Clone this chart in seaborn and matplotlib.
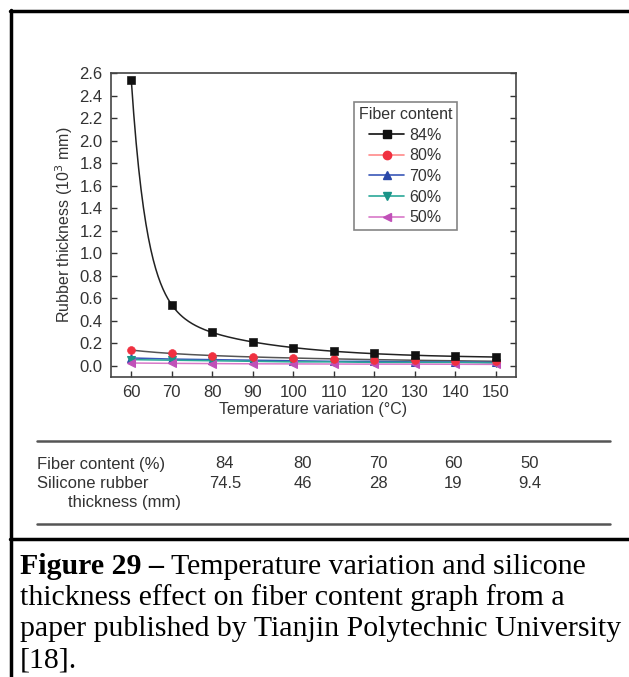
import numpy as np
import pandas as pd
import seaborn as sns
import matplotlib.pyplot as plt
from matplotlib.lines import Line2D

# data
temperature = [60, 70, 80, 90, 100, 110, 120, 130, 140, 150]
fiber_84 = [2.54, 0.54, 0.30, 0.21, 0.16, 0.13, 0.11, 0.095, 0.085, 0.075]
fiber_80 = [0.14, 0.11, 0.09, 0.08, 0.07, 0.06, 0.055, 0.05, 0.045, 0.04]
fiber_70 = [0.07, 0.06, 0.055, 0.05, 0.045, 0.04, 0.04, 0.035, 0.035, 0.03]
fiber_60 = [0.055, 0.05, 0.045, 0.04, 0.035, 0.035, 0.03, 0.03, 0.03, 0.025]
fiber_50 = [0.025, 0.022, 0.02, 0.018, 0.017, 0.016, 0.015, 0.015, 0.014, 0.013]

table_fiber = ['84', '80', '70', '60', '50']
table_thickness = ['74.5', '46', '28', '19', '9.4']

caption_bold = 'Figure 29 \u2013'
caption_rest = ' Temperature variation and silicone'
caption_lines = ['thickness effect on fiber content graph from a',
                 'paper published by Tianjin Polytechnic University',
                 '[18].']

series = {'84%': fiber_84, '80%': fiber_80, '70%': fiber_70,
          '60%': fiber_60, '50%': fiber_50}
colors = {'84%': '#111111', '80%': '#f03040', '70%': '#2a48a8',
          '60%': '#1b9488', '50%': '#c050b8'}
line_colors = {'84%': '#111111', '80%': '#ff8a8a', '70%': '#3a58b8',
               '60%': '#2aa898', '50%': '#d878c8'}
markers = {'84%': 's', '80%': 'o', '70%': '^', '60%': 'v', '50%': '<'}

df = pd.DataFrame([(k, t, v) for k, vals in series.items()
                   for t, v in zip(temperature, vals)],
                  columns=['fiber', 'temp', 'thick'])


def fit_expdec2(x, y):
    """Least squares fit of y = y0 + A1*exp(-dx/t1) + A2*exp(-dx/t2), grid over t1, t2."""
    x = np.asarray(x, float)
    y = np.asarray(y, float)
    dx = x - x[0]
    best = None
    for t1 in np.linspace(2, 20, 61):
        for t2 in np.linspace(10, 120, 56):
            if t2 <= t1:
                continue
            basis = np.column_stack([np.ones_like(x), np.exp(-dx / t1), np.exp(-dx / t2)])
            coef, *_ = np.linalg.lstsq(basis, y, rcond=None)
            err = np.sum((basis @ coef - y) ** 2)
            if best is None or err < best[0]:
                best = (err, t1, t2, coef)
    _, t1, t2, coef = best
    xs = np.linspace(x[0], x[-1], 300)
    d = xs - x[0]
    return xs, coef[0] + coef[1] * np.exp(-d / t1) + coef[2] * np.exp(-d / t2)


sns.set_theme(style='white')
plt.rcParams['font.family'] = ['Liberation Sans', 'DejaVu Sans']

fig = plt.figure(figsize=(6.29, 6.77), dpi=100)
ax = fig.add_axes([0.1765, 0.443, 0.644, 0.449])

# fitted curves for 84% and 80%
for key, col in [('84%', '#222222'), ('80%', '#555555')]:
    xs, ys = fit_expdec2(temperature, series[key])
    sns.lineplot(x=xs, y=ys, ax=ax, color=col, lw=1.1, zorder=2)

# connected series
for key in ['70%', '60%', '50%']:
    sub = df[df['fiber'] == key]
    sns.lineplot(data=sub, x='temp', y='thick', ax=ax, color=line_colors[key],
                 lw=1.1, marker=markers[key], markersize=5.5,
                 markerfacecolor=colors[key], markeredgecolor=colors[key], zorder=3)

for key in ['80%', '84%']:
    sub = df[df['fiber'] == key]
    sns.scatterplot(data=sub, x='temp', y='thick', ax=ax, color=colors[key],
                    marker=markers[key], s=32, edgecolor=colors[key], zorder=4)

ax.set_xlim(55, 155)
ax.set_ylim(-0.1, 2.6)
ax.set_xticks(temperature)
ax.set_yticks(np.arange(0, 2.61, 0.2))
ax.set_yticklabels([f'{v:.1f}' for v in np.arange(0, 2.61, 0.2)])
ax.tick_params(direction='in', length=4, width=1, colors='#333333',
               labelsize=12, labelcolor='#333333', top=False, right=True,
               left=True, bottom=True, pad=6)
for s in ax.spines.values():
    s.set_color('#444444')
    s.set_linewidth(1.2)
ax.set_xlabel('Temperature variation (\u00b0C)', fontsize=11.5, color='#333333', labelpad=1)
ax.set_ylabel('Rubber thickness (10$^3$ mm)', fontsize=11.5, color='#333333', labelpad=3)

handles = [Line2D([], [], color=line_colors[k], marker=markers[k], markersize=6,
                  markerfacecolor=colors[k], markeredgecolor=colors[k], lw=1.2)
           for k in series]
leg = ax.legend(handles, list(series), title='Fiber content', loc='upper left',
                bbox_to_anchor=(0.58, 0.93), fontsize=11.5, title_fontsize=11.5,
                frameon=True, fancybox=False, edgecolor='#666666',
                handlelength=2.2, handletextpad=0.3, labelspacing=0.35,
                borderpad=0.3)
leg.get_frame().set_linewidth(1.2)
for t in leg.get_texts():
    t.set_color('#333333')
leg.get_title().set_color('#333333')

# table under the chart
W, H = 629, 677


def fx(px):
    return px / W


def fy(py):
    return 1 - py / H


fig.add_artist(Line2D([fx(37), fx(610)], [fy(441), fy(441)], color='#555555', lw=1.8))
fig.add_artist(Line2D([fx(37), fx(610)], [fy(524), fy(524)], color='#555555', lw=1.8))
tkw = dict(fontsize=12, color='#333333', va='center')
fig.text(fx(37), fy(464), 'Fiber content (%)', **tkw)
fig.text(fx(37), fy(483), 'Silicone rubber', **tkw)
fig.text(fx(68), fy(503), 'thickness (mm)', **tkw)
col_x = [225, 303, 378, 453, 530]
for cx, f, t in zip(col_x, table_fiber, table_thickness):
    fig.text(fx(cx), fy(464), f, ha='center', **tkw)
    fig.text(fx(cx), fy(483), t, ha='center', **tkw)

# outer frame and caption separator
fig.add_artist(Line2D([fx(11), fx(11)], [fy(10), 0], color='black', lw=2.5))
fig.add_artist(Line2D([fx(10), 1], [fy(11), fy(11)], color='black', lw=2.5))
fig.add_artist(Line2D([fx(10), 1], [fy(539), fy(539)], color='black', lw=2.5))

# caption
ckw = dict(fontsize=21.5, color='black', family=['Liberation Serif', 'DejaVu Serif'],
           va='baseline')
b = fig.text(fx(20), fy(574), caption_bold, fontweight='bold', **ckw)
fig.canvas.draw()
bb = b.get_window_extent()
fig.text(bb.x1 / W, fy(574), caption_rest, **ckw)
for i, line in enumerate(caption_lines):
    fig.text(fx(20), fy(574 + 31 * (i + 1)), line, **ckw)

fig.savefig('out.png', dpi=100)
